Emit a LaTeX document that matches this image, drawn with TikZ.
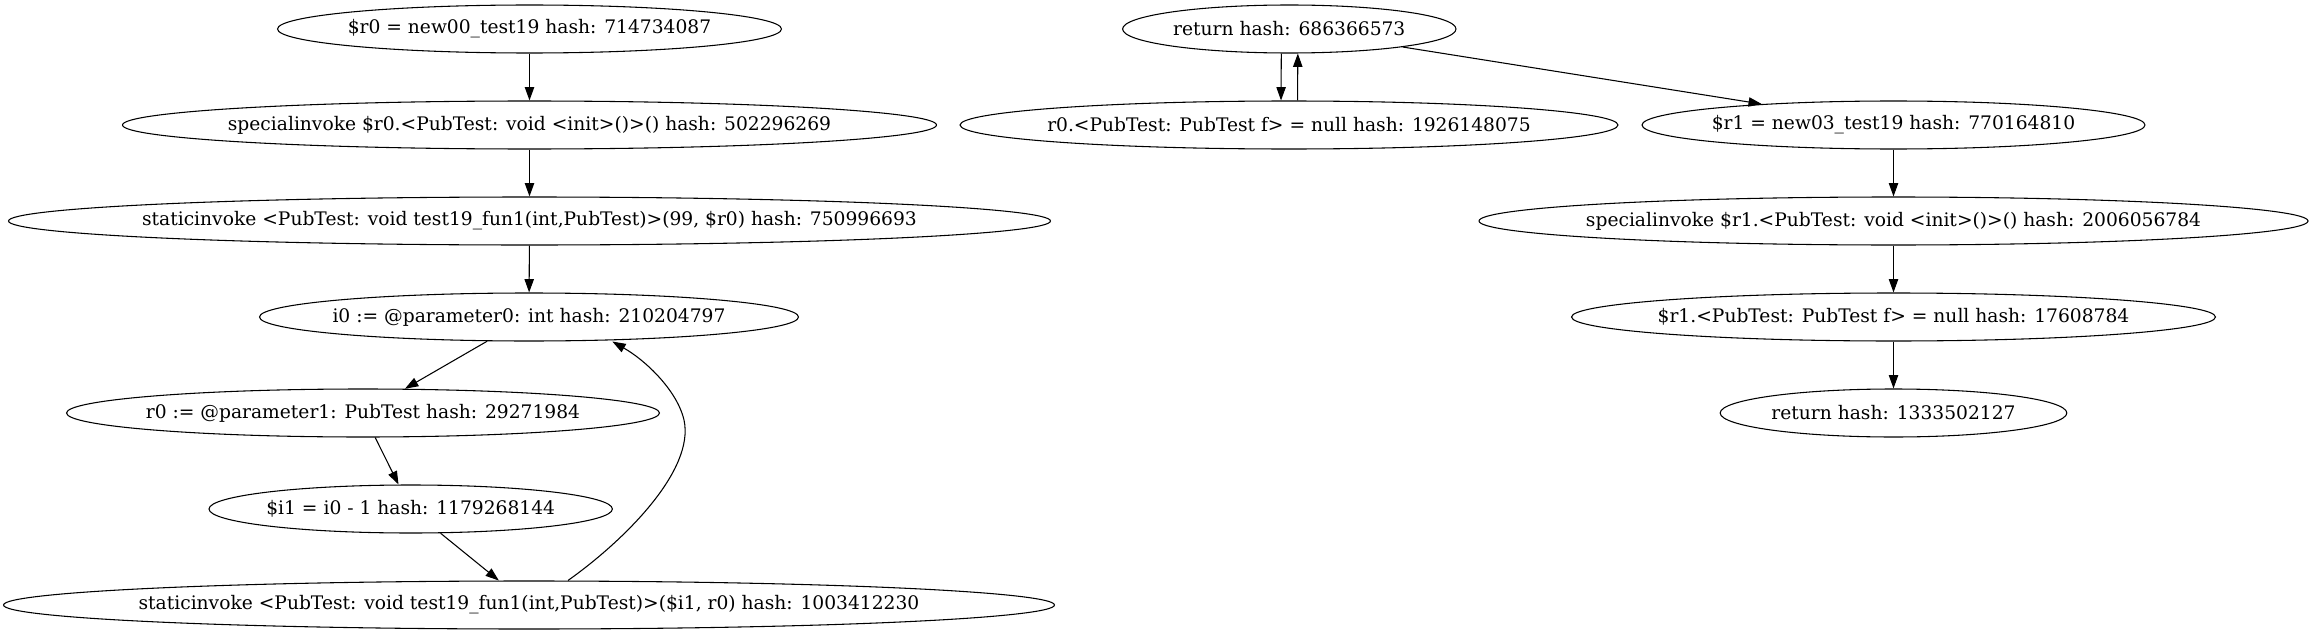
\documentclass[tikz,border=0pt]{standalone}
\usepackage{fontspec}
\setmainfont{DejaVu Serif}
\usetikzlibrary{shapes.geometric,arrows.meta}
\begin{document}
\begin{tikzpicture}[x=0.75pt,y=-0.75pt,
  gv/.style={ellipse,draw,line width=0.8pt,inner sep=0pt,minimum height=36pt,
    minimum width=#1*1.5pt,font=\fontsize{14pt}{16pt}\selectfont},
  gvedge/.style={draw,line width=0.8pt,-{Triangle[length=10pt,width=7pt]}}]
\useasboundingbox (0,0) rectangle (2313,635);
% left component
\node[gv=252]   (A1) at (529.5,29)  {\makebox[0pt]{\$r0 = new00\_test19 hash: 714734087}};
\node[gv=407]   (A2) at (529.5,125) {\makebox[0pt]{specialinvoke \$r0.<PubTest: void <init>()>() hash: 502296269}};
\node[gv=521]   (A3) at (529.5,221) {\makebox[0pt]{staticinvoke <PubTest: void test19\_fun1(int,PubTest)>(99, \$r0) hash: 750996693}};
\node[gv=269.5] (A4) at (529,317)   {\makebox[0pt]{i0 := @parameter0: int hash: 210204797}};
\node[gv=296.5] (A5) at (363,413)   {\makebox[0pt]{r0 := @parameter1: PubTest hash: 29271984}};
\node[gv=201.7] (A6) at (410.7,509) {\makebox[0pt]{\$i1 = i0 - 1 hash: 1179268144}};
\node[gv=525.5] (A7) at (529,605)   {\makebox[0pt]{staticinvoke <PubTest: void test19\_fun1(int,PubTest)>(\$i1, r0) hash: 1003412230}};
% right component
\node[gv=166.7] (B1) at (1289.3,29) {\makebox[0pt]{return hash: 686366573}};
\node[gv=329]   (B2) at (1289,125)  {\makebox[0pt]{r0.<PubTest: PubTest f> = null hash: 1926148075}};
\node[gv=251.5] (B3) at (1893.5,125) {\makebox[0pt]{\$r1 = new03\_test19 hash: 770164810}};
\node[gv=414.5] (B4) at (1893.5,221) {\makebox[0pt]{specialinvoke \$r1.<PubTest: void <init>()>() hash: 2006056784}};
\node[gv=322]   (B5) at (1893.5,317) {\makebox[0pt]{\$r1.<PubTest: PubTest f> = null hash: 17608784}};
\node[gv=173.3] (B6) at (1893.5,413) {\makebox[0pt]{return hash: 1333502127}};
% edges
\path[gvedge] (A1) -- (A2);
\path[gvedge] (A2) -- (A3);
\path[gvedge] (A3) -- (A4);
\path[gvedge] (A4) -- (A5);
\path[gvedge] (A5) -- (A6);
\path[gvedge] (A6) -- (A7);
\path[gvedge] ([xshift=29.25pt]A7.north) .. controls (625,540) and (695,470) .. (684,420)
   .. controls (677,390) and (645,360) .. ([xshift=62.5pt]A4.south);
\path[gvedge] ([xshift=-6pt]B1.south) -- ([xshift=-6pt]B2.north);
\path[gvedge] ([xshift=6.4pt]B2.north) -- ([xshift=6.4pt]B1.south);
\path[gvedge] (B1) -- (B3);
\path[gvedge] (B3) -- (B4);
\path[gvedge] (B4) -- (B5);
\path[gvedge] (B5) -- (B6);
\end{tikzpicture}
\end{document}
